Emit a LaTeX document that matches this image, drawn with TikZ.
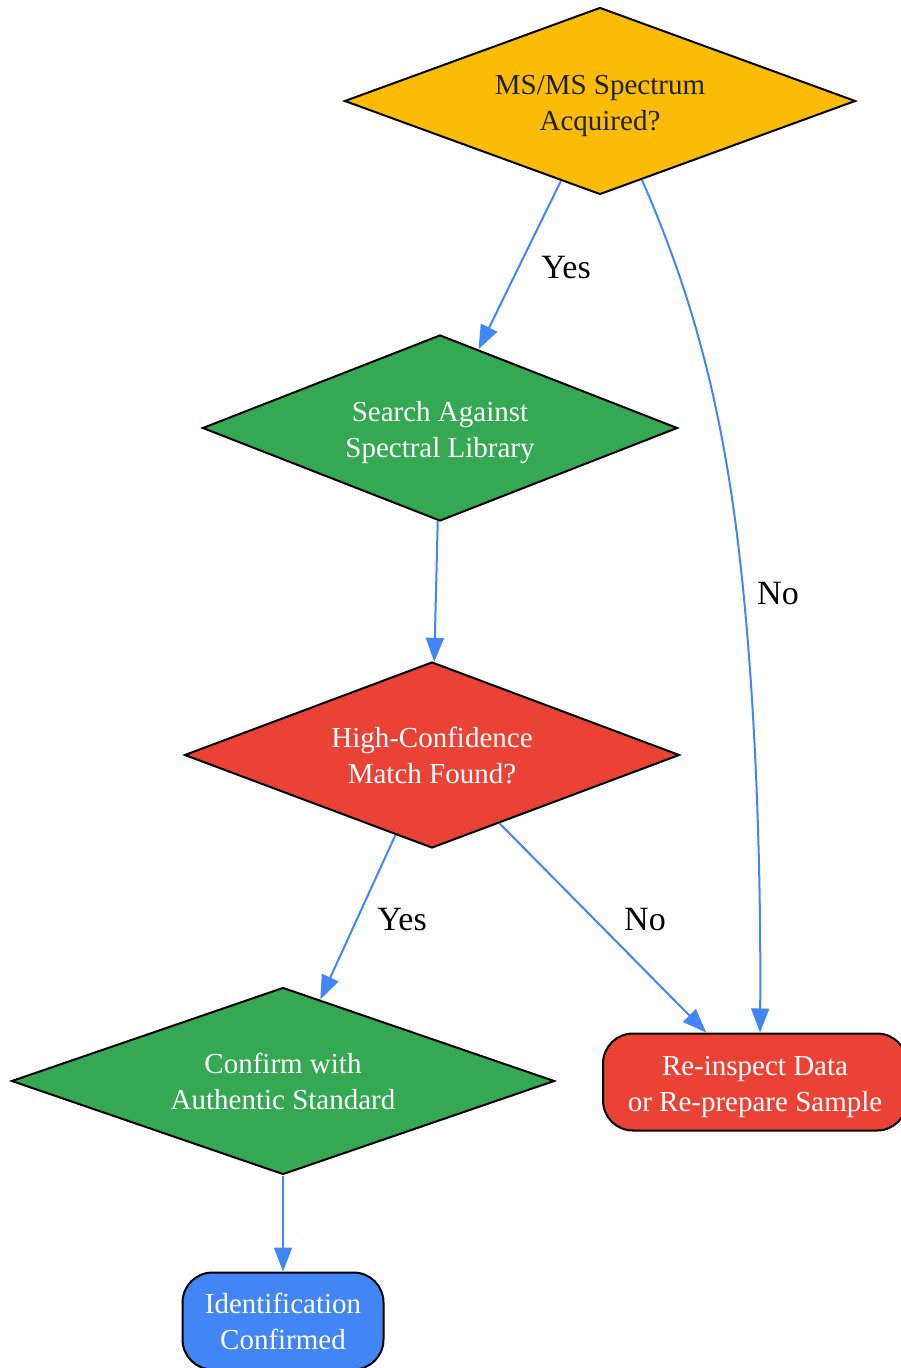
\documentclass[tikz,border=0pt]{standalone}
\usepackage{fontspec}
\setmainfont{Liberation Serif}
\usetikzlibrary{shapes.geometric,arrows.meta}
\definecolor{gyellow}{HTML}{FBBC05}
\definecolor{ggreen}{HTML}{34A853}
\definecolor{gred}{HTML}{EA4335}
\definecolor{gblue}{HTML}{4285F4}
\definecolor{gdark}{HTML}{202124}
\newcommand{\lowstrut}{\rule{0pt}{15pt}}

\begin{document}
\begin{tikzpicture}[x=0.5pt,y=-0.5pt]
\tikzstyle{every node}+=[inner sep=0pt]
\tikzstyle{decision}=[diamond, aspect=2.7, draw=black, line width=1pt, align=center, text=white, font=\fontsize{14.5}{18}\selectfont]
\tikzstyle{terminal}=[rectangle, rounded corners=15pt, draw=black, line width=1pt, align=center, text=white, font=\fontsize{14.5}{18}\selectfont]
\tikzstyle{flow}=[draw=gblue, line width=1pt, -{Triangle[length=12pt,width=9pt]}]
\tikzstyle{edgelabel}=[font=\fontsize{17}{20}\selectfont]

\useasboundingbox (0,0) rectangle (900,1368);

% decisions
\node [decision, fill=gyellow, text=gdark, minimum width=255.5pt, minimum height=93.5pt] (acquired) at (600,101) {\lowstrut MS/MS Spectrum\\Acquired?};
\node [decision, fill=ggreen, minimum width=237.5pt, minimum height=93pt] (search) at (440,428) {\lowstrut Search Against\\Spectral Library};
\node [decision, fill=gred, minimum width=247.5pt, minimum height=93pt] (match) at (432,755) {High-Confidence\\Match Found?};
\node [decision, fill=ggreen, minimum width=271.5pt, minimum height=93.5pt] (confirm) at (283,1081) {Confirm with\\Authentic Standard};

% end points
\node [terminal, fill=gred, minimum width=152pt, minimum height=48.5pt] (redo) at (755,1082) {\lowstrut Re-inspect Data\\or Re-prepare Sample};
\node [terminal, fill=gblue, minimum width=100.5pt, minimum height=48.5pt] (done) at (283,1321) {Identification\\Confirmed};

% connectors
\draw [flow] (acquired) -- (search);
\draw [flow] (acquired.-62.6) .. controls (690,290) and (722,400) .. (740,560)
  .. controls (758,720) and (761,900) .. ([xshift=2.5pt]redo.north);
\draw [flow] (search) -- (match);
\draw [flow] (match) -- (confirm);
\draw [flow] (match) -- (redo);
\draw [flow] (confirm) -- (done);

% labels
\node [edgelabel] (yes1) at (566,268) {Yes};
\node [edgelabel] (no1) at (778,594) {No};
\node [edgelabel] (yes2) at (402,920) {Yes};
\node [edgelabel] (no2) at (645,920) {No};
\end{tikzpicture}
\end{document}
